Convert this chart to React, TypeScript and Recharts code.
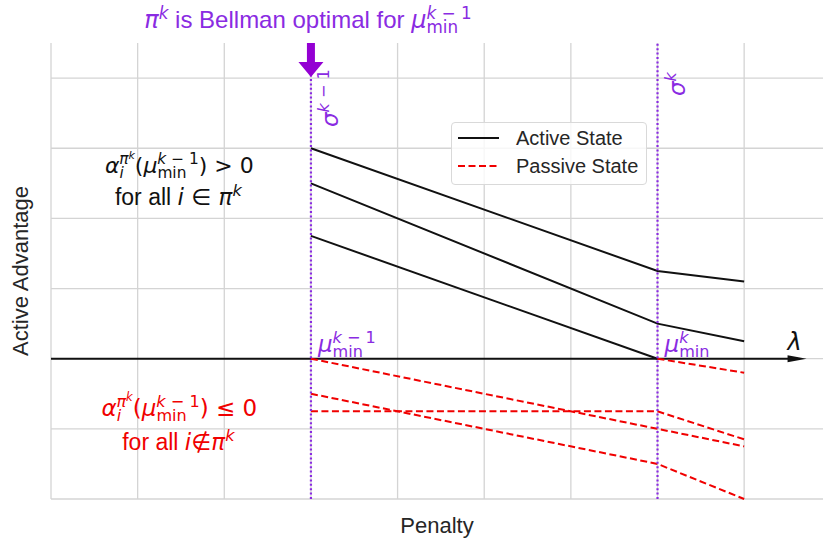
import React from "react";
import {
  LineChart,
  Line,
  XAxis,
  YAxis,
  CartesianGrid,
  ReferenceLine,
  ReferenceDot,
  Legend,
} from "recharts";

// penalty values where the advantage curves are sampled
const PENALTY = [3, 7, 8];

// active-state advantages (solid black)
const ACTIVE_A = [3.0, 1.25, 1.1];
const ACTIVE_B = [2.5, 0.5, 0.25];
const ACTIVE_C = [1.75, 0.0, null];

// passive-state advantages (red dashed)
const PASSIVE_A = [0.0, -1.0, -1.25];
const PASSIVE_B = [-0.5, -1.5, -2.0];
const PASSIVE_C = [-0.75, -0.75, -1.15];
const PASSIVE_D = [null, 0.0, -0.2];

const X_TICKS = [0, 1, 2, 3, 4, 5, 6, 7, 8];
const Y_TICKS = [-2, -1, 0, 1, 2, 3, 4];
const X_DOMAIN = [0, 8.91];
const Y_DOMAIN = [-2, 4.5];

const MU_PREV = 3; // mu_min^{k-1}
const MU_CURR = 7; // mu_min^k
const LAMBDA_END = 8.72;

const SERIES_NAMES = ["Active State", "Passive State"];

const ACTIVE = [ACTIVE_A, ACTIVE_B, ACTIVE_C];
const PASSIVE = [PASSIVE_A, PASSIVE_B, PASSIVE_C, PASSIVE_D];

const rows = PENALTY.map((x, i) => {
  const row: Record<string, number | null> = { x };
  ACTIVE.forEach((s, j) => (row[`a${j}`] = s[i]));
  PASSIVE.forEach((s, j) => (row[`p${j}`] = s[i]));
  return row;
});

const SANS = '"Liberation Sans", Arial, sans-serif';
const MATH = '"DejaVu Sans", sans-serif';
const PURPLE = "#8a2be2";
const RED = "#f00000";
const INK = "#111111";
const LABEL = "#262626";

// ticks are kept (so the grid follows them) but draw nothing
const noTick = () => <g />;

// [text, kind, level, dx]  kind: s = sans, i = math italic, r = math roman
type Seg = [string, "s" | "i" | "r", number?, number?];

const shiftOf = (lv: number) => (lv === 1 ? -0.38 : lv === -1 ? 0.22 : lv === 2 ? -0.64 : 0);
const scaleOf = (lv: number) => (lv === 0 ? 1 : lv === 2 ? 0.5 : 0.7);

function Rich({ x, y, segs, fs, fill, anchor = "start", transform }: any) {
  let cur = 0;
  return (
    <text x={x} y={y} textAnchor={anchor} fill={fill} transform={transform} style={{ whiteSpace: "pre" }}>
      {(segs as Seg[]).map(([t, kind, lv = 0, dx], i) => {
        const target = shiftOf(lv) * fs;
        const dy = target - cur;
        cur = target;
        return (
          <tspan
            key={i}
            dy={dy}
            dx={dx ? dx * fs : undefined}
            fontSize={scaleOf(lv) * fs}
            fontFamily={kind === "s" ? SANS : MATH}
            fontStyle={kind === "i" ? "italic" : "normal"}
          >
            {t}
          </tspan>
        );
      })}
    </text>
  );
}

const MIN_W = -1.886 * 0.7;
const I_W = -0.3 * 0.7;

const muMin = (sup: Seg[]): Seg[] => [
  ["μ", "i"],
  ["min", "r", -1],
  [sup[0][0], sup[0][1], 1, MIN_W],
  ...sup.slice(1),
];

const KM1: Seg[] = [["k", "i", 1], [" − 1", "r", 1]];

const alpha = (rel: string): Seg[] => [
  ["α", "i"],
  ["i", "i", -1],
  ["π", "i", 1, I_W],
  ["k", "i", 2],
  ["(", "r"],
  ...muMin(KM1),
  [")", "r"],
  [rel, "r"],
];

const renderLegend = (props: any) => {
  const seen = new Set<string>();
  const items = (props.payload || []).filter((e: any) => {
    if (seen.has(e.value)) return false;
    seen.add(e.value);
    return true;
  });
  return (
    <div
      style={{
        border: "1px solid #d9d9d9",
        borderRadius: 4,
        background: "rgba(255,255,255,0.8)",
        padding: "1px 8px 4px 6px",
        fontFamily: SANS,
        fontSize: 20,
        color: LABEL,
      }}
    >
      {items.map((e: any) => (
        <div key={e.value} style={{ display: "flex", alignItems: "center", height: 28 }}>
          <svg width={41} height={10}>
            <line
              x1={0}
              x2={41}
              y1={5}
              y2={5}
              stroke={e.color}
              strokeWidth={2}
              strokeDasharray={e.payload?.strokeDasharray}
            />
          </svg>
          <span style={{ marginLeft: 17 }}>{e.value}</span>
        </div>
      ))}
    </div>
  );
};

export default function App() {
  return (
    <div style={{ position: "absolute", left: 0, top: 0, background: "#fff" }}>
      <LineChart width={823} height={542} data={rows} margin={{ top: 43, right: 0, bottom: 0, left: 0 }}>
        <CartesianGrid
          stroke="#d4d4d4"
          strokeWidth={1.3}
          verticalValues={X_TICKS}
          horizontalValues={Y_TICKS}
        />
        <XAxis
          dataKey="x"
          type="number"
          domain={X_DOMAIN}
          ticks={X_TICKS}
          interval={0}
          tick={noTick}
          tickLine={false}
          axisLine={false}
          height={43}
          label={{
            content: (p: any) => (
              <text
                x={p.viewBox.x + p.viewBox.width / 2}
                y={p.viewBox.y + 34}
                textAnchor="middle"
                fontFamily={SANS}
                fontSize={22}
                fill={LABEL}
              >
                Penalty
              </text>
            ),
          }}
        />
        <YAxis
          type="number"
          domain={Y_DOMAIN}
          ticks={Y_TICKS}
          interval={0}
          tick={noTick}
          tickLine={false}
          axisLine={false}
          width={51}
          label={{
            content: (p: any) => {
              const x = p.viewBox.x + 28;
              const y = p.viewBox.y + p.viewBox.height / 2;
              return (
                <text
                  x={x}
                  y={y}
                  transform={`rotate(-90, ${x}, ${y})`}
                  textAnchor="middle"
                  fontFamily={SANS}
                  fontSize={22}
                  fill={LABEL}
                >
                  Active Advantage
                </text>
              );
            },
          }}
        />

        {/* lambda axis with arrow head */}
        <ReferenceLine
          segment={[
            { x: 0, y: 0 },
            { x: LAMBDA_END - 0.1, y: 0 },
          ]}
          stroke={INK}
          strokeWidth={2}
        />
        <ReferenceDot
          x={LAMBDA_END}
          y={0}
          ifOverflow="visible"
          shape={(p: any) => (
            <g>
              <polygon
                points={`${p.cx},${p.cy} ${p.cx - 19},${p.cy - 3.5} ${p.cx - 19},${p.cy + 3.5}`}
                fill={INK}
              />
              <text x={p.cx - 12} y={p.cy - 9} textAnchor="middle" fontFamily={MATH} fontStyle="italic" fontSize={24} fill={INK}>
                λ
              </text>
            </g>
          )}
        />

        {ACTIVE.map((_, j) => (
          <Line
            key={`a${j}`}
            dataKey={`a${j}`}
            name={SERIES_NAMES[0]}
            legendType={j === 0 ? "line" : "none"}
            stroke={INK}
            strokeWidth={2}
            dot={false}
            activeDot={false}
            isAnimationActive={false}
          />
        ))}
        {PASSIVE.map((_, j) => (
          <Line
            key={`p${j}`}
            dataKey={`p${j}`}
            name={SERIES_NAMES[1]}
            legendType={j === 0 ? "line" : "none"}
            stroke={RED}
            strokeWidth={2}
            strokeDasharray="7 3.5"
            dot={false}
            activeDot={false}
            isAnimationActive={false}
          />
        ))}

        {/* title + arrow */}
        <ReferenceDot
          x={MU_PREV}
          y={Y_DOMAIN[1]}
          ifOverflow="visible"
          shape={(p: any) => (
            <g>
              <polygon
                points={`${p.cx - 4},${p.cy} ${p.cx + 4},${p.cy} ${p.cx + 4},${p.cy + 19} ${p.cx + 12.5},${p.cy + 19} ${p.cx},${p.cy + 34} ${p.cx - 12.5},${p.cy + 19} ${p.cx - 4},${p.cy + 19}`}
                fill="#9400d3"
              />
              <Rich
                x={p.cx - 3}
                y={p.cy - 15}
                anchor="middle"
                fs={24}
                fill={PURPLE}
                segs={[["π", "i"], ["k", "i", 1], [" is Bellman optimal for ", "s"], ...muMin(KM1)]}
              />
              <Rich
                x={0}
                y={0}
                transform={`translate(${p.cx + 27}, ${p.cy + 84}) rotate(-90)`}
                fs={23}
                fill={PURPLE}
                segs={[["σ", "i"], ...KM1]}
              />
            </g>
          )}
        />
        <ReferenceDot
          x={MU_CURR}
          y={Y_DOMAIN[1]}
          ifOverflow="visible"
          shape={(p: any) => (
            <Rich
              x={0}
              y={0}
              transform={`translate(${p.cx + 27}, ${p.cy + 53}) rotate(-90)`}
              fs={23}
              fill={PURPLE}
              segs={[["σ", "i"], ["k", "i", 1]]}
            />
          )}
        />

        <ReferenceLine x={MU_PREV} stroke={PURPLE} strokeWidth={2.2} strokeDasharray="2 2.4" />
        <ReferenceLine x={MU_CURR} stroke={PURPLE} strokeWidth={2.2} strokeDasharray="2 2.4" />

        {/* mu labels on the lambda axis */}
        <ReferenceDot
          x={MU_PREV}
          y={0}
          ifOverflow="visible"
          shape={(p: any) => (
            <Rich x={p.cx + 7} y={p.cy - 7} fs={23} fill={PURPLE} segs={muMin(KM1)} />
          )}
        />
        <ReferenceDot
          x={MU_CURR}
          y={0}
          ifOverflow="visible"
          shape={(p: any) => (
            <Rich x={p.cx + 7} y={p.cy - 7} fs={23} fill={PURPLE} segs={muMin([["k", "i", 1]])} />
          )}
        />

        {/* region annotations */}
        <ReferenceDot
          x={1.47}
          y={2.65}
          ifOverflow="visible"
          shape={(p: any) => (
            <g>
              <Rich x={p.cx + 1} y={p.cy} anchor="middle" fs={22} fill={INK} segs={alpha(" > 0")} />
              <Rich
                x={p.cx}
                y={p.cy + 32}
                anchor="middle"
                fs={23}
                fill={INK}
                segs={[["for all ", "s"], ["i", "i"], [" ∈ ", "r"], ["π", "i"], ["k", "i", 1]]}
              />
            </g>
          )}
        />
        <ReferenceDot
          x={1.47}
          y={-0.82}
          ifOverflow="visible"
          shape={(p: any) => (
            <g>
              <Rich x={p.cx + 1} y={p.cy} anchor="middle" fs={23} fill={RED} segs={alpha(" ≤ 0")} />
              <Rich
                x={p.cx}
                y={p.cy + 34}
                anchor="middle"
                fs={23}
                fill={RED}
                segs={[["for all ", "s"], ["i", "i"], ["∉", "r"], ["π", "i"], ["k", "i", 1]]}
              />
            </g>
          )}
        />

        <Legend
          layout="vertical"
          align="center"
          verticalAlign="middle"
          wrapperStyle={{ left: 451, top: 122, width: "auto" }}
          content={renderLegend}
        />
      </LineChart>
    </div>
  );
}
